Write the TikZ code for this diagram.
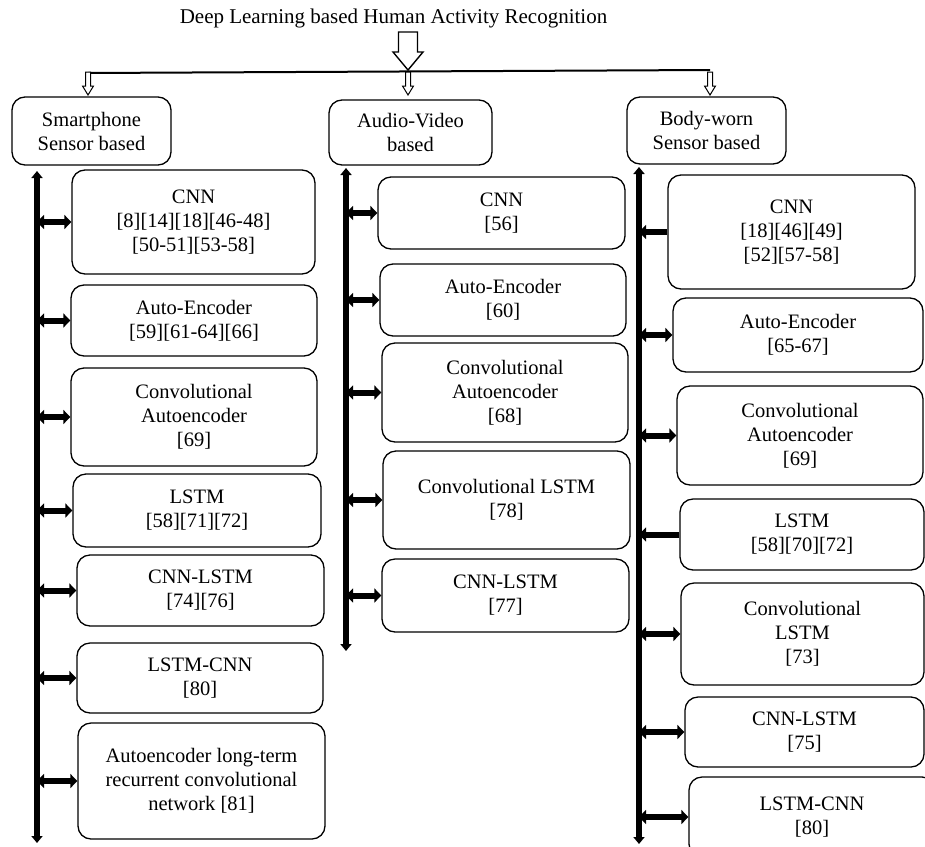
\documentclass[tikz,border=0pt]{standalone}
\usepackage{fontspec}
\setmainfont{Liberation Serif}
\usetikzlibrary{arrows.meta}
\tikzset{
	blk/.style={draw, line width=1.3pt, rounded corners=13pt, align=center, inner sep=0pt, font=\fontsize{20.5}{24}\selectfont},
	trunk/.style={line width=5.5pt, {Triangle[width=11pt,length=7pt]}-{Triangle[width=11pt,length=7pt]}},
	dbl/.style={line width=6pt, {Triangle[width=14pt,length=7pt]}-{Triangle[width=14pt,length=7pt]}},
	sgl/.style={line width=6pt, -{Triangle[width=14pt,length=7pt]}},
	hollow/.style={draw, fill=white, line join=miter}
}
\begin{document}
\begin{tikzpicture}[x=1pt,y=-1pt,line cap=butt]
			\clip (0,0) rectangle (925,846);
			\node[font=\fontsize{21}{25}\selectfont] (ti) at (393.5,18) {Deep Learning based Human Activity Recognition};
			\coordinate (bl) at (88,73);
			\coordinate (br) at (710,70);
			\draw[line width=2pt] (bl) -- (br);
			\draw[hollow,line width=1.4pt] (398.5,32) -- (417.5,32) -- (417.5,52) -- (423,52) -- (408,70) -- (393,52) -- (398.5,52) -- cycle;
			\foreach \x in {88,408,710} \draw[hollow,line width=1pt] (\x-2.5,72) -- (\x+2.5,72) -- (\x+2.5,86) -- (\x+5.5,86) -- (\x,95) -- (\x-5.5,86) -- (\x-2.5,86) -- cycle;
			\node[blk, minimum width=159pt, minimum height=68pt] (hs) at (91.5,131) {Smartphone\\Sensor based};
			\node[blk, minimum width=163pt, minimum height=65pt] (ha) at (410.5,132.5) {Audio-Video\\based};
			\node[blk, minimum width=159pt, minimum height=67pt] (hb) at (706.5,130.5) {Body-worn\\Sensor based};
			\coordinate (st) at (37,171);
			\coordinate (sb) at (37,843);
			\coordinate (at) at (346,168);
			\coordinate (ab) at (346,651);
			\coordinate (bt) at (639,167);
			\coordinate (bb) at (639,844);
			\foreach \p/\q in {st/sb,at/ab,bt/bb} \draw[trunk] (\p) -- (\q);
			\foreach \n/\x/\y/\w/\h/\t in {
				sCNN/193.5/222/243/104/{CNN\\{}[8][14][18][46-48]\\{}[50-51][53-58]},
				sAE/194/320.5/246/71/{Auto-Encoder\\{}[59][61-64][66]},
				sCAE/194/417/246/98/{Convolutional\\Autoencoder\\{}[69]},
				sLSTM/197/510.5/248/73/{LSTM\\{}[58][71][72]},
				sCL/200.5/590.5/247/71/{CNN-LSTM\\{}[74][76]},
				sLC/200/678/246/70/{LSTM-CNN\\{}[80]},
				sALR/201.5/781/247/116/{Autoencoder long-term\\recurrent convolutional\\network [81]},
				aCNN/501.5/213/247/72/{CNN\\{}[56]},
				aAE/503/300/246/72/{Auto-Encoder\\{}[60]},
				aCAE/505/392.5/246/99/{Convolutional\\Autoencoder\\{}[68]},
				aCLSTM/506.5/500/247/98/{Convolutional LSTM\\{}[78]},
				aCL/505.5/595.5/247/73/{CNN-LSTM\\{}[77]},
				bCNN/791.5/232/247/114/{CNN\\{}[18][46][49]\\{}[52][57-58]},
				bAE/798/335/250/74/{Auto-Encoder\\{}[65-67]},
				bCAE/800/435.5/246/99/{Convolutional\\Autoencoder\\{}[69]},
				bLSTM/802/534.5/244/71/{LSTM\\{}[58][70][72]},
				bCLSTM/802.5/634/243/102/{Convolutional\\LSTM\\{}[73]},
				bCL/804.5/732/239/70/{CNN-LSTM\\{}[75]},
				bLC/812/817/246/80/{LSTM-CNN\\{}[80]}}
				\node[blk, minimum width=\w pt, minimum height=\h pt] (\n) at (\x,\y) {\t};
			\foreach \n in {sCNN,sAE,sCAE,sLSTM,sCL,sLC,sALR} \draw[dbl] (\n.west) -- (\n.west -| st);
			\foreach \n in {aCNN,aAE,aCAE,aCLSTM,aCL} \draw[dbl] (\n.west) -- (\n.west -| at);
			\foreach \n in {bAE,bCAE,bCLSTM,bCL,bLC} \draw[dbl] (\n.west) -- (\n.west -| bt);
			\foreach \n in {bCNN,bLSTM} \draw[sgl] (\n.west) -- (\n.west -| bt);
		\end{tikzpicture}
\end{document}
